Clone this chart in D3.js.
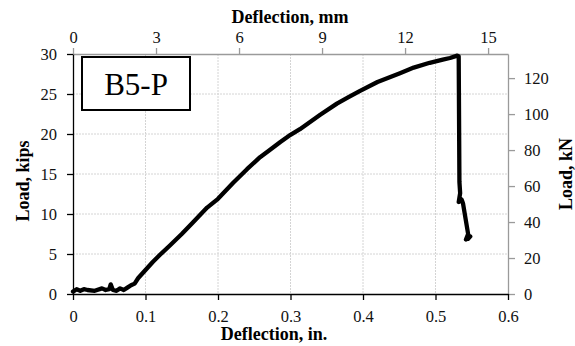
<!DOCTYPE html>
<html><head><meta charset="utf-8">
<script src="https://cdn.jsdelivr.net/npm/d3@7"></script>
<style>
body{margin:0;background:#fff;}
text{font-family:"Liberation Serif","Times New Roman",serif;}
</style></head>
<body>
<svg id="c" width="575" height="346"></svg>
<script>
// Data: deflection (in.) vs load (kips)
const deflectionIn = [0,0.005,0.01,0.015,0.02,0.03,0.04,0.045,0.05,0.052,0.055,0.06,0.065,0.07,0.075,0.08,0.085,0.09,0.1,0.11,0.12,0.134,0.15,0.166,0.185,0.2,0.221,0.24,0.258,0.27,0.286,0.3,0.313,0.341,0.364,0.38,0.396,0.42,0.451,0.47,0.492,0.51,0.52,0.53,0.532,0.533,0.534,0.532,0.536,0.538,0.545,0.542,0.548,0.545];
const loadKips     = [0.3,0.6,0.4,0.6,0.5,0.4,0.7,0.5,0.6,1.2,0.5,0.4,0.7,0.5,0.8,1.1,1.3,2.0,3.0,4.0,4.9,6.1,7.5,9.0,10.8,11.9,13.9,15.6,17.1,17.9,19.0,19.9,20.6,22.4,23.8,24.6,25.4,26.5,27.6,28.3,28.9,29.3,29.5,29.8,29.7,14.0,12.6,11.5,11.8,11.3,7.5,6.8,7.2,6.9];
const xTicksIn   = [0,0.1,0.2,0.3,0.4,0.5,0.6];
const xTicksMm   = [0,3,6,9,12,15];
const yTicksKips = [0,5,10,15,20,25,30];
const yTicksKN   = [0,20,40,60,80,100,120];
const label = "B5-P";

const svg = d3.select("#c");
const L = 73, R = 508, T = 54, B = 294;
const x = d3.scaleLinear().domain([0,0.6]).range([L,R]);
const xmm = d3.scaleLinear().domain([0,15.72]).range([L,R]);
const y = d3.scaleLinear().domain([0,30]).range([B,T]);
const ykn = d3.scaleLinear().domain([0,133.4]).range([B,T]);

// grid
const grid = svg.append("g");
grid.selectAll("line.v").data(xTicksIn.filter(d=>d>0&&d<0.6)).enter().append("line")
  .attr("x1",d=>x(d)).attr("x2",d=>x(d)).attr("y1",T).attr("y2",B)
  .attr("stroke","#d4d4d4").attr("stroke-width",1).attr("stroke-dasharray","2,1");
grid.selectAll("line.h").data(yTicksKips.filter(d=>d>0&&d<30)).enter().append("line")
  .attr("x1",L).attr("x2",R).attr("y1",d=>y(d)).attr("y2",d=>y(d))
  .attr("stroke","#d4d4d4").attr("stroke-width",1).attr("stroke-dasharray","2,1");

function styleAxis(g, color){
  g.selectAll("path").attr("stroke",color).attr("stroke-width",1.3);
  g.selectAll(".tick line").attr("stroke",color).attr("stroke-width",1.3);
  g.selectAll("text").attr("fill","#111").style("font-size","16.5px")
   .style("font-family","'Liberation Serif','Times New Roman',serif");
}
// top axis (mm)
const gt = svg.append("g").attr("transform",`translate(0,${T})`)
  .call(d3.axisTop(xmm).tickValues(xTicksMm).tickSize(6).tickSizeOuter(0).tickPadding(5));
styleAxis(gt,"#9a9a9a");
// right axis (kN)
const gr = svg.append("g").attr("transform",`translate(${R},0)`)
  .call(d3.axisRight(ykn).tickValues(yTicksKN).tickSize(7).tickSizeOuter(0).tickPadding(9));
styleAxis(gr,"#9a9a9a");
gr.selectAll("text").attr("text-anchor","start");
// bottom axis
const gb = svg.append("g").attr("transform",`translate(0,${B})`)
  .call(d3.axisBottom(x).tickValues(xTicksIn).tickFormat(d=>d===0?"0":d3.format(".1f")(d)).tickSize(6).tickSizeOuter(0).tickPadding(10));
styleAxis(gb,"#000");
// left axis
const gl = svg.append("g").attr("transform",`translate(${L},0)`)
  .call(d3.axisLeft(y).tickValues(yTicksKips).tickSize(6).tickSizeOuter(0).tickPadding(10));
styleAxis(gl,"#000");

// data line
const pts = deflectionIn.map((d,i)=>[d,loadKips[i]]);
svg.append("path").datum(pts)
  .attr("d", d3.line().x(d=>x(d[0])).y(d=>y(d[1])))
  .attr("fill","none").attr("stroke","#000").attr("stroke-width",4.3)
  .attr("stroke-linejoin","round").attr("stroke-linecap","round");

// label box
svg.append("rect").attr("x",82).attr("y",57).attr("width",108).attr("height",53)
  .attr("fill","#fff").attr("stroke","#000").attr("stroke-width",2);
svg.append("text").attr("x",136).attr("y",95).attr("text-anchor","middle")
  .style("font-size","31px").attr("fill","#000").text(label);

// titles
svg.append("text").attr("x",290).attr("y",23).attr("text-anchor","middle")
  .style("font-size","18px").style("font-weight","bold").text("Deflection, mm");
svg.append("text").attr("x",274).attr("y",340).attr("text-anchor","middle")
  .style("font-size","18px").style("font-weight","bold").text("Deflection, in.");
svg.append("text").attr("transform","translate(29,181) rotate(-90)").attr("text-anchor","middle")
  .style("font-size","18px").style("font-weight","bold").text("Load, kips");
svg.append("text").attr("transform","translate(572,174) rotate(-90)").attr("text-anchor","middle")
  .style("font-size","18px").style("font-weight","bold").text("Load, kN");
</script>
</body></html>
